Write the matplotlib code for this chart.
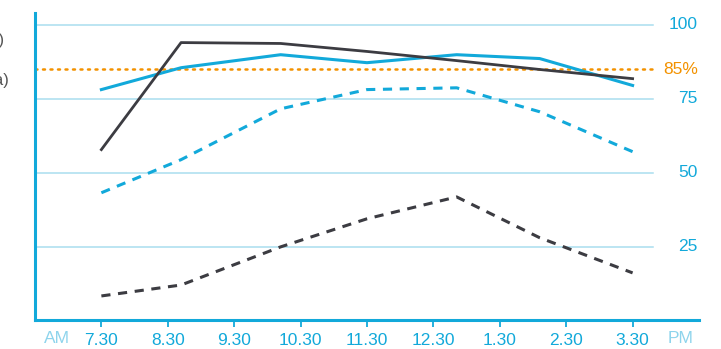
import matplotlib.pyplot as plt

plt.rcParams['font.family'] = ['Liberation Sans', 'DejaVu Sans']

# hours (7.5 = 7.30 AM ... 15.5 = 3.30 PM)
hours = [7.5, 8.7, 10.2, 11.5, 12.85, 14.1, 15.5]
blue_solid = [78.1, 85.5, 89.9, 87.2, 89.9, 88.6, 79.5]
dark_solid = [57.8, 94.0, 93.7, 91.0, 87.9, 84.9, 81.8]
blue_dash = [43.2, 54.4, 71.6, 78.1, 78.7, 70.6, 57.1]
dark_dash = [8.3, 12.0, 24.9, 34.4, 41.8, 28.0, 16.1]

tick_pos = [7.5, 8.5, 9.5, 10.5, 11.5, 12.5, 13.5, 14.5, 15.5]
tick_lab = ['7.30', '8.30', '9.30', '10.30', '11.30', '12.30', '1.30', '2.30', '3.30']
grid_vals = [25, 50, 75, 100]
target = 85

BLUE = '#12A9DA'
DARK = '#3C3C42'
ORANGE = '#F39200'
GRID = '#A9DEEF'

fig = plt.figure(figsize=(7.21, 3.49), dpi=100)
ax = fig.add_axes([0.0485, 0.0817, 0.921, 0.881])
ax.set_xlim(6.5, 16.5)
ax.set_ylim(0, 104)

line_end = 15.8
for g in grid_vals:
    ax.plot([6.5, line_end], [g, g], color=GRID, lw=1.1, zorder=1)
    ax.text(16.48, g, str(g), color=BLUE, fontsize=12.5, ha='right', va='center')
ax.plot([6.5, line_end], [target, target], color=ORANGE, lw=1.8, ls=(0, (0.8, 2.2)),
        dash_capstyle='round', zorder=2)
ax.text(16.48, target, '85%', color=ORANGE, fontsize=12.5, ha='right', va='center')

ax.plot(hours, dark_dash, color=DARK, lw=2.2, ls=(0, (3, 2.5)), zorder=3)
ax.plot(hours, blue_dash, color=BLUE, lw=2.2, ls=(0, (3, 2.5)), zorder=3)
ax.plot(hours, blue_solid, color=BLUE, lw=2.2, zorder=4)
ax.plot(hours, dark_solid, color=DARK, lw=2.0, zorder=5)

for s in ['top', 'right']:
    ax.spines[s].set_visible(False)
for s in ['left', 'bottom']:
    ax.spines[s].set_color(BLUE)
    ax.spines[s].set_linewidth(2.2)
ax.set_yticks([])
ax.set_xticks(tick_pos)
ax.set_xticklabels(tick_lab)
ax.tick_params(axis='x', colors=BLUE, length=5, width=1.3, labelsize=12.5, pad=4)

ax.text(6.83, -0.058, 'AM', transform=ax.get_xaxis_transform(), color='#8ED4EC',
        fontsize=12.5, ha='center', va='center')
ax.text(16.22, -0.058, 'PM', transform=ax.get_xaxis_transform(), color='#8ED4EC',
        fontsize=12.5, ha='center', va='center')

fig.text(4 / 721, 1 - 40 / 349, '(%)', color='#555555', fontsize=12, ha='right', va='center')
fig.text(9 / 721, 1 - 80 / 349, '(média)', color='#555555', fontsize=12, ha='right', va='center')

fig.savefig('out.png', dpi=100)
